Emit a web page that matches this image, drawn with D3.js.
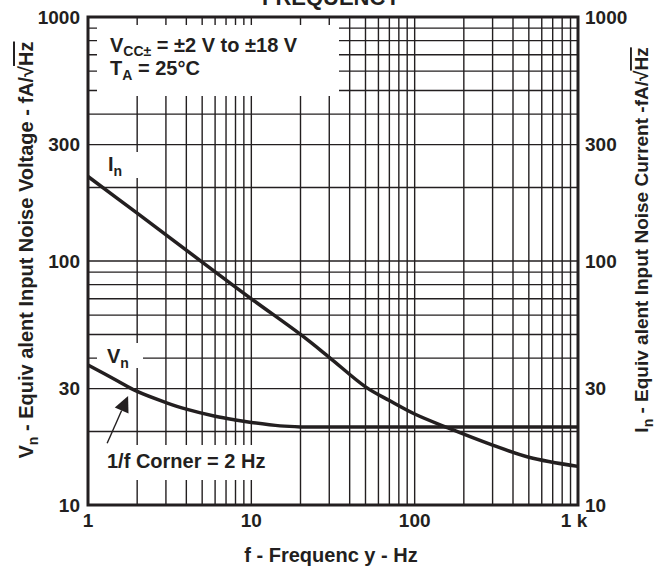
<!DOCTYPE html>
<html>
<head>
<meta charset="utf-8">
<title>Noise vs Frequency</title>
<style>
body { margin: 0; background: #fff; }
text { font-family: "Liberation Sans", Arial, sans-serif; font-weight: bold; fill: #231f20; }
.grid line { stroke: #231f20; stroke-width: 1.4; }
.curve { fill: none; stroke: #231f20; stroke-width: 3.5; stroke-linejoin: round; }
.ovl { text-decoration: overline; }
</style>
</head>
<body>
<script src="https://d3js.org/d3.v7.min.js"></script>
<script>

// values
var vnFreq   = [1, 1.5, 2, 3, 4, 6, 8, 10, 15, 20, 30, 100, 1000];
var vnValues = [37.5, 32.4, 29.2, 26.3, 24.7, 23.1, 22.3, 21.8, 21.1, 20.9, 20.9, 20.9, 20.9];
var inFreq   = [1, 2, 5, 10, 20, 30, 50, 70, 100, 160, 300, 500, 1000];
var inValues = [222, 157, 99, 70, 50, 40.3, 30.5, 26.8, 23.6, 20.7, 17.6, 15.7, 14.4];
var yLabels = [10, 30, 100, 300, 1000];
var xLabels = [1, 10, 100, 1000];
var xLabelText = ["1", "10", "100", "1 k"];

var margin = {top: 17, right: 78, bottom: 64, left: 88},
    W = 656, H = 569,
    width = W - margin.left - margin.right,
    height = H - margin.top - margin.bottom;

var x = d3.scaleLog().domain([1, 1000]).range([0, width]);
var y = d3.scaleLog().domain([10, 1000]).range([height, 0]);

var svg = d3.select("body").append("svg")
    .attr("width", W)
    .attr("height", H);

var g = svg.append("g")
    .attr("transform", "translate(" + margin.left + "," + margin.top + ")");

// grid
var grid = g.append("g").attr("class", "grid");
grid.selectAll(".vx").data(x.ticks()).enter().append("line")
    .attr("x1", function(d) { return x(d); }).attr("x2", function(d) { return x(d); })
    .attr("y1", 0).attr("y2", height);
grid.selectAll(".hy").data(y.ticks()).enter().append("line")
    .attr("y1", function(d) { return y(d); }).attr("y2", function(d) { return y(d); })
    .attr("x1", 0).attr("x2", width);

// white label boxes over the grid
var boxes = [
  [9, 8, 242, 71],     // conditions
  [7, 135, 46, 26],    // In
  [9, 326, 46, 25],    // Vn
  [9, 428, 185, 35]    // 1/f corner
];
g.selectAll(".box").data(boxes).enter().append("rect")
    .attr("x", function(d) { return d[0]; })
    .attr("y", function(d) { return d[1]; })
    .attr("width", function(d) { return d[2]; })
    .attr("height", function(d) { return d[3]; })
    .attr("fill", "#fff");

// curves
var line = d3.line()
    .x(function(d) { return x(d[0]); })
    .y(function(d) { return y(d[1]); })
    .curve(d3.curveCatmullRom.alpha(0.5));

g.append("path").attr("class", "curve")
    .attr("d", line(d3.zip(inFreq, inValues)));
g.append("path").attr("class", "curve")
    .attr("d", line(d3.zip(vnFreq, vnValues)));

// frame
g.append("rect")
    .attr("width", width).attr("height", height)
    .attr("fill", "none").attr("stroke", "#231f20").attr("stroke-width", 3);

// tick labels
g.selectAll(".yl").data(yLabels).enter().append("text")
    .attr("x", -8).attr("y", function(d) { return y(d); })
    .attr("dy", "0.36em").attr("text-anchor", "end")
    .style("font-size", "19px").text(function(d) { return d; });
g.selectAll(".yr").data(yLabels).enter().append("text")
    .attr("x", width + 7).attr("y", function(d) { return y(d); })
    .attr("dy", "0.36em").attr("text-anchor", "start")
    .style("font-size", "19px").text(function(d) { return d; });
g.selectAll(".xl").data(xLabels).enter().append("text")
    .attr("x", function(d, i) { return x(d) - (i == 3 ? 4 : 0); })
    .attr("y", height + 22).attr("text-anchor", "middle")
    .style("font-size", "19px").text(function(d, i) { return xLabelText[i]; });

// axis titles
svg.append("text")
    .attr("x", margin.left + width / 2 - 2).attr("y", H - 7)
    .attr("text-anchor", "middle").style("font-size", "20px")
    .text("f - Frequenc y - Hz");

var lt = svg.append("text")
    .attr("transform", "translate(33,250) rotate(-90)")
    .attr("text-anchor", "middle").style("font-size", "20px");
lt.append("tspan").text("V");
lt.append("tspan").attr("dy", 5).style("font-size", "14px").text("n");
lt.append("tspan").attr("dy", -5).text(" - Equiv alent Input Noise Voltage - fA/\u221A");
lt.append("tspan").attr("class", "ovl").text("Hz");

var rt = svg.append("text")
    .attr("transform", "translate(648,240) rotate(-90)")
    .attr("text-anchor", "middle").style("font-size", "19px");
rt.append("tspan").text("I");
rt.append("tspan").attr("dy", 5).style("font-size", "14px").text("n");
rt.append("tspan").attr("dy", -5).text(" - Equiv alent Input Noise Current -fA/\u221A");
rt.append("tspan").attr("class", "ovl").text("Hz");

// title (cut off at top)
svg.append("text")
    .attr("x", 331).attr("y", 5).attr("text-anchor", "middle")
    .style("font-size", "22px").text("FREQUENCY");

// conditions
var c1 = g.append("text").attr("x", 22).attr("y", 35).style("font-size", "20px");
c1.append("tspan").text("V");
c1.append("tspan").attr("dy", 4).style("font-size", "14px").text("CC\u00B1");
c1.append("tspan").attr("dy", -4).text(" = \u00B12 V to \u00B118 V");
var c2 = g.append("text").attr("x", 22).attr("y", 58).style("font-size", "20px");
c2.append("tspan").text("T");
c2.append("tspan").attr("dy", 5).style("font-size", "14px").text("A");
c2.append("tspan").attr("dy", -5).text(" = 25\u00B0C");

// curve labels
var li = g.append("text").attr("x", 20).attr("y", 154).style("font-size", "20px");
li.append("tspan").text("I");
li.append("tspan").attr("dy", 5).style("font-size", "14px").text("n");
var lv = g.append("text").attr("x", 19).attr("y", 346).style("font-size", "20px");
lv.append("tspan").text("V");
lv.append("tspan").attr("dy", 5).style("font-size", "14px").text("n");
g.append("text").attr("x", 19).attr("y", 451).style("font-size", "20px")
    .text("1/f Corner = 2 Hz");

// arrow to the corner
var a0 = [x(1.31), y(17.9)], a1 = [x(1.76), y(28)];
var dx = a1[0] - a0[0], dy = a1[1] - a0[1], len = Math.sqrt(dx * dx + dy * dy);
var ux = dx / len, uy = dy / len, hl = 16, hw = 7.5;
var bx = a1[0] - ux * hl, by = a1[1] - uy * hl;
g.append("line")
    .attr("x1", a0[0]).attr("y1", a0[1]).attr("x2", bx).attr("y2", by)
    .attr("stroke", "#231f20").attr("stroke-width", 1.4);
g.append("path")
    .attr("d", "M" + a1[0] + "," + a1[1] +
               "L" + (bx - uy * hw) + "," + (by + ux * hw) +
               "L" + (bx + uy * hw) + "," + (by - ux * hw) + "Z")
    .attr("fill", "#231f20");

</script>
</body>
</html>
